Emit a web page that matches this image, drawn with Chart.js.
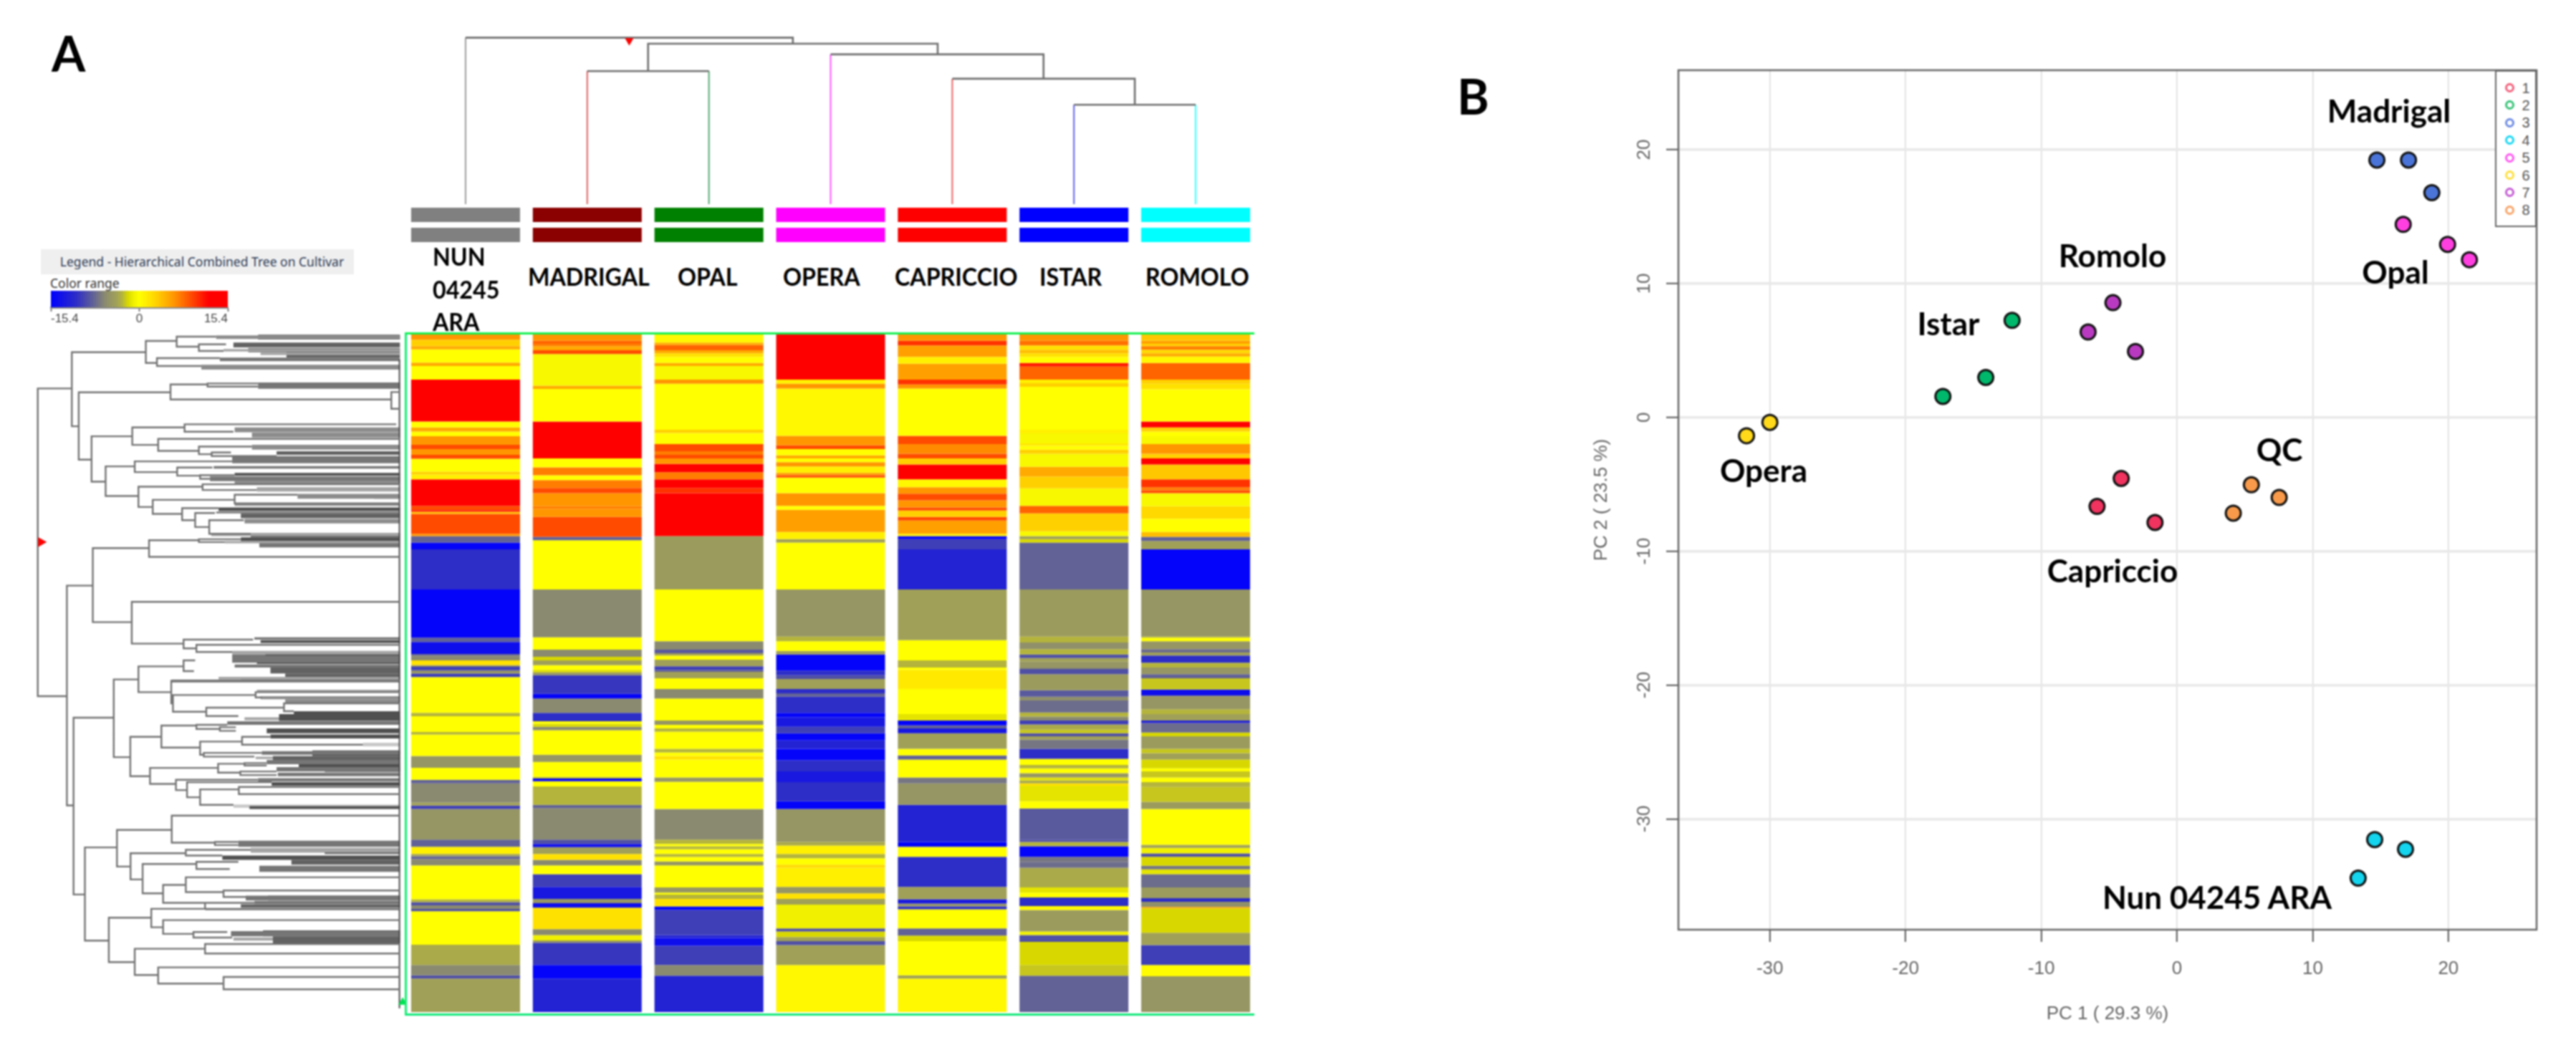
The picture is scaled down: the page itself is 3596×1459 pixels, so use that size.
<!DOCTYPE html>
<html><head><meta charset="utf-8">
<script src="https://cdn.jsdelivr.net/npm/chart.js@4"></script>
<style>
html,body{margin:0;padding:0;background:#fff;overflow:hidden}
#stage{position:relative;width:3596px;height:1459px;background:#fff;filter:blur(.8px)}
canvas{position:absolute}
.t{position:absolute;white-space:nowrap;color:#000;font-family:Lato,"Open Sans",sans-serif;font-weight:700;line-height:1}
.c{transform:translate(-50%,-50%)}
.v{transform:translateY(-50%)}
</style></head><body><div id="stage"></div>
<script>
// ---------- Panel A data ----------
const cultivars=["NUN 04245 ARA","MADRIGAL","OPAL","OPERA","CAPRICCIO","ISTAR","ROMOLO"];
const heatRowCount=2836;
// each entry: [log-ratio value, row where that run of equal rows ends]
const nunRuns=[[6,22],[3,49],[5,62],[0,118],[5,132],[0,189],[14,364],[0,389],[5,406],[0,426],[6,462],[9,480],[6,504],[9,520],[0,574],[3,586],[1,606],[14,717],[9,735],[12,741],[4,751],[9,834],[6,844],[-8,871],[-15,899],[-11,1067],[-15,1269],[-8,1287],[-14,1337],[-8,1344],[-6,1364],[2,1384],[-6,1391],[-10,1405],[-6,1412],[-4,1419],[-10,1434],[0,1584],[-3,1598],[0,1664],[-3,1674],[0,1764],[-5,1814],[0,1864],[-8,1879],[-6,1959],[-4,1972],[-10,1986],[-5,2114],[-8,2144],[1,2174],[-4,2184],[-8,2196],[-6,2222],[0,2364],[-3,2376],[-9,2389],[-6,2404],[-9,2414],[0,2554],[-3.5,2639],[-6,2682],[-9,2696],[-4,2836]];
const madrigalRuns=[[6,26],[8,39],[7,49],[5,66],[9,82],[-0.5,214],[5,228],[0,364],[14,519],[0,556],[7,589],[0,609],[7,642],[9,664],[6,719],[7,729],[6,764],[9,847],[-8,861],[0,1067],[-6,1267],[0,1319],[-6,1349],[-2,1364],[-4,1384],[0,1404],[-2,1414],[-5,1426],[-10.5,1504],[-15,1524],[-6,1584],[-11,1619],[0,1629],[-2,1642],[-6,1656],[0,1759],[-5,1789],[0,1852],[-3,1859],[-15,1870],[0,1892],[-3,1969],[-8,1982],[-6,2114],[-9,2132],[-14,2146],[-4,2174],[2,2199],[-6,2222],[0,2259],[-10,2312],[-13,2362],[-5,2380],[-14,2399],[2,2489],[-6,2514],[-1,2536],[-5,2546],[-10.5,2639],[-15,2696],[-12,2836]];
const opalRuns=[[0.5,34],[5,44],[8,66],[5,79],[2,94],[0,119],[5,132],[-0.5,189],[6,206],[0,399],[3,412],[0,459],[9,489],[7,504],[9,519],[6,542],[12,576],[7,606],[13,642],[10,664],[14,844],[-4.5,1067],[0,1284],[-6,1319],[-8.5,1334],[-4,1344],[0,1361],[-4,1389],[-10,1404],[-8,1412],[-4,1439],[0,1484],[-6,1524],[0,1616],[-5,1634],[0,1649],[-3,1662],[0,1734],[-3,1749],[0,1764],[2,1779],[0,1854],[-5,1872],[0,1986],[-6,2114],[-3,2132],[0,2142],[-3,2154],[0,2174],[-3,2186],[0,2206],[-5,2222],[0,2314],[-5,2336],[0,2344],[-3,2362],[2,2394],[-15,2409],[-10,2514],[-12,2526],[-14,2559],[-10,2639],[-6,2684],[-12,2836]];
const operaRuns=[[14,189],[1,206],[6,226],[0.5,424],[6,464],[9,480],[0,506],[5,519],[0,534],[6,552],[1,579],[6,589],[9,599],[0,664],[6,717],[0,734],[5.5,827],[1,857],[-4,871],[0,1067],[-5,1264],[-3,1284],[0,1324],[-4,1339],[-15,1407],[-11,1426],[-9,1442],[-4,1484],[-11,1502],[-8,1516],[-11,1584],[-15,1602],[-13,1642],[-10,1669],[-15,1699],[-12,1734],[-15,1782],[-11,1829],[-13,1874],[-11,1954],[-15,1986],[-5,2124],[-3.5,2139],[1,2174],[-3,2192],[0,2219],[2.5,2232],[1,2312],[-5,2339],[2,2362],[-4,2386],[-1,2486],[-9,2499],[-2,2522],[-4,2539],[-9,2556],[-4,2639],[0.5,2836]];
const capriccioRuns=[[6,26],[10,46],[5.5,94],[1,122],[5.5,189],[10,209],[6,226],[0,424],[9,459],[6.5,499],[9,519],[3,544],[12,606],[0.5,639],[6,666],[9,694],[6,724],[9,737],[3,764],[9,779],[5.5,834],[1,844],[-15,857],[-10,899],[-12,1067],[-4,1279],[0,1364],[-3,1394],[0,1404],[1.5,1484],[0,1589],[-1.5,1616],[-15,1636],[-8,1649],[-13,1669],[-4,1734],[0,1762],[-8,1779],[0,1854],[-7,1879],[-5,1969],[-12,2124],[-15,2144],[0,2186],[-11,2312],[-4,2364],[-13,2382],[-5,2394],[-11,2406],[0,2486],[-8,2516],[-2,2539],[0,2682],[-4,2696],[0.5,2836]];
const istarRuns=[[6,26],[7.5,46],[2,64],[4,79],[2,94],[0,119],[11,134],[8,189],[1,204],[3,219],[0,399],[1,414],[-0.5,456],[1.5,466],[0,482],[3,499],[-0.5,554],[5,594],[3,644],[-0.5,717],[8,749],[3,824],[-0.5,844],[-4,857],[-2,871],[-8,1067],[-4.5,1264],[-3,1289],[-5.5,1317],[-3,1339],[-9,1354],[-4,1369],[-5,1394],[-6,1400],[-9,1422],[-4.5,1489],[-8.5,1516],[-5.5,1532],[-7.5,1582],[-3,1599],[-6,1616],[-10,1632],[-3.5,1654],[-2.5,1669],[-9,1682],[-4,1696],[-7,1734],[-11,1776],[0,1802],[-3,1816],[0,1836],[-5,1854],[-1.5,1866],[-3.5,1879],[2,1889],[-1.5,1954],[0,1984],[-8.5,2114],[-9,2124],[-3,2142],[-15,2186],[-7,2209],[-7.5,2232],[-3.5,2314],[-1.5,2336],[0,2356],[-11,2392],[0.5,2409],[-4.5,2499],[-1,2514],[-9,2542],[-2,2639],[-2.5,2684],[-8,2836]];
const romoloRuns=[[3.5,26],[5.5,39],[3,49],[7,64],[2.5,79],[5,92],[0.5,119],[8,189],[3,206],[2,229],[0,364],[13,389],[3,406],[0,426],[-0.5,459],[6,499],[3,519],[12,544],[3.5,606],[10,639],[7,652],[9,664],[-0.5,719],[2.5,771],[0,827],[4,847],[-8,864],[-4,899],[-15,1067],[-5,1264],[-3,1269],[0,1284],[-5,1317],[-7.5,1331],[-4,1344],[-11,1374],[-3,1394],[-5,1422],[-8,1439],[-2.5,1486],[-14,1512],[-5,1569],[-3,1589],[-4,1616],[-12,1626],[-7.5,1666],[-2,1682],[-4.5,1734],[-2.5,1752],[-4,1779],[-2,1816],[0,1829],[-2.5,1854],[0,1874],[-3,1894],[-2.5,1956],[-4.5,1986],[0,2136],[-4,2149],[-1,2172],[-9,2186],[-2,2224],[-7,2239],[-1.5,2259],[-7.5,2314],[-4.5,2359],[-11,2374],[-5.5,2396],[5,2402],[-2,2504],[-4,2556],[-10,2639],[0.3,2686],[-5,2836]];
// column tree: [left x, right x, height, left child height, right child height]
const columnTreeMerges=[[0,2.69,499,0,481],[1.5,3.88,481,399,449],[3,4.75,449,0,376],[4,5.5,376,0,298],[5,6,298,0,0],[1,2,399,0,0]];
const columnLeafTops=[499,399,399,449,376,298,298];
// row tree: [depth, upper row, lower row, upper child depth, lower child depth]
const rowTreeMerges=[[37,226,1514,175,155],[175,74,384,475,203],[475,27,119,600,520],[600,9,51,760,690],[690,41,69,800,790],[520,99,132,775,700],[203,242,524,575,255],[575,209,272,725,1470],[725,205,218,930,930],[1470,241,311,1505,1505],[255,426,616,420,312],[420,389,462,632,525],[632,376,407,1490,830],[525,437,487,1505,690],[690,469,501,905,742],[742,494,509,820,1005],[312,552,676,430,445],[430,531,576,825,602],[602,557,591,745,695],[695,589,604,835,735],[445,637,722,705,503],[705,627,651,1505,925],[503,692,751,835,622],[835,671,707,1090,1505],[622,727,777,770,675],[675,747,806,755,732],[732,777,834,872,900],[155,1051,1971,260,182],[260,894,1204,488,418],[488,861,931,690,1505],[690,857,869,860,795],[418,1119,1294,1505,628],[628,1277,1314,910,680],[680,1299,1329,1505,825],[445,1389,1497,628,575],[628,1364,1409,675,670],[345,1444,1769,445,412],[578,1449,1544,1505,585],[585,1509,1579,920,720],[920,1497,1519,1505,945],[720,1562,1597,1035,850],[1035,1544,1577,1505,1075],[182,1604,2344,345,228],[412,1684,1849,538,492],[538,1637,1729,680,695],[680,1634,1651,805,775],[775,1644,1659,840,840],[695,1704,1759,865,710],[865,1684,1717,980,1355],[710,1751,1767,945,915],[492,1814,1881,768,597],[768,1797,1834,875,858],[875,1794,1804,965,965],[858,1829,1844,1005,1005],[597,1864,1907,930,642],[642,1874,1937,985,695],[695,1904,1969,852,830],[852,1894,1924,1505,1505],[228,2147,2537,358,325],[358,2074,2227,580,413],[580,2014,2127,1505,755],[755,2124,2137,850,850],[413,2171,2281,637,462],[637,2157,2181,900,785],[462,2216,2339,680,545],[680,2207,2237,850,815],[545,2304,2379,637,715],[637,2272,2334,1505,790],[790,2327,2354,1505,885],[715,2379,2404,915,1505],[325,2441,2627,497,430],[497,2404,2481,715,545],[545,2451,2509,1505,668],[668,2501,2524,805,825],[430,2571,2681,715,525],[715,2551,2591,1505,1505],[525,2649,2717,1505,790],[790,2689,2741,1505,1505]];
// bundles of near-identical leaves: [start depth, first row, last row, density class]
const rowLeafBundles=[[760,4,19,2],[930,1,21,4],[830,34,54,4],[790,61,71,1],[890,57,74,4],[940,76,86,1],[1045,74,97,4],[775,97,112,3],[700,127,147,2],[930,201,227,3],[835,389,409,2],[905,411,431,2],[905,462,482,2],[1005,489,504,4],[825,509,539,3],[750,551,561,3],[835,579,591,5],[735,594,614,3],[835,614,629,2],[925,639,657,1],[1090,667,687,2],[1400,674,687,3],[835,704,717,2],[770,724,739,5],[760,741,749,3],[860,749,769,4],[875,772,791,2],[740,831,844,1],[900,831,849,4],[860,849,864,5],[795,864,874,1],[935,871,891,3],[915,1267,1277,3],[940,1279,1291,5],[825,1324,1339,1],[960,1329,1344,5],[825,1339,1374,3],[960,1344,1359,4],[925,1359,1379,5],[835,1381,1394,3],[980,1394,1419,4],[1040,1419,1433,4],[770,1433,1444,1],[860,1433,1444,5],[580,1444,1457,2],[925,1487,1499,1],[940,1514,1527,2],[1040,1527,1541,2],[1075,1577,1589,5],[1015,1589,1617,5],[875,1602,1614,1],[805,1619,1634,3],[965,1649,1669,5],[980,1674,1691,5],[1355,1709,1724,0],[945,1744,1759,3],[1150,1741,1764,5],[990,1764,1781,4],[920,1767,1777,1],[965,1781,1799,3],[1095,1797,1811,5],[1005,1811,1829,3],[1200,1811,1831,5],[1010,1834,1849,3],[930,1857,1871,3],[985,1874,1889,5],[895,1974,1986,5],[830,1967,1981,0],[850,2119,2144,3],[900,2149,2169,1],[1200,2157,2174,5],[785,2181,2199,5],[1065,2199,2219,4],[935,2224,2249,3],[880,2349,2369,3],[970,2349,2369,5],[915,2371,2384,3],[860,2385,2399,4],[715,2401,2409,6],[820,2497,2519,3],[950,2494,2519,5],[990,2519,2549,4],[830,2524,2537,1]];
const colorRangeTicks=[-15.4,0,15.4];
// ---------- Panel B data ----------
const capriccioPC=[[-4.11,-4.56],[-5.89,-6.65],[-1.62,-7.85]];
const istarPC=[[-12.15,7.25],[-14.09,2.99],[-17.25,1.57]];
const madrigalPC=[[14.73,19.23],[17.06,19.23],[18.78,16.79]];
const nunPC=[[14.57,-31.54],[16.84,-32.26],[13.35,-34.42]];
const opalPC=[[16.67,14.42],[19.94,12.93],[21.55,11.78]];
const operaPC=[[-30,-0.37],[-31.72,-1.37]];
const romoloPC=[[-4.72,8.57],[-6.55,6.38],[-3.06,4.93]];
const qcPC=[[5.48,-5.03],[7.53,-5.98],[4.15,-7.15]];
const pcXTicks=[-30,-20,-10,0,10,20];
const pcYTicks=[-30,-20,-10,0,10,20];
const groupNames=["1","2","3","4","5","6","7","8"];

// ---------- styling ----------
const heatStops=[[-15.4,0,0,255],[-13,24,24,224],[-11,45,45,200],[-9,80,80,165],[-8,98,98,150],[-6,138,138,112],[-5,150,150,100],[-4,160,160,88],[-3,180,180,60],[-2,216,216,0],[-1,240,240,0],[0,255,255,0],[2,255,225,0],[3,255,208,0],[5,255,170,0],[6,255,150,0],[8,255,100,0],[9,255,75,0],[10,255,50,0],[12,255,0,0],[15.4,255,0,0]];
function heatColor(v){
  for(let i=1;i<heatStops.length;i++){
    const a=heatStops[i-1],b=heatStops[i];
    if(v<=b[0]){const t=(v-a[0])/(b[0]-a[0]);
      return `rgb(${Math.round(a[1]+t*(b[1]-a[1]))},${Math.round(a[2]+t*(b[2]-a[2]))},${Math.round(a[3]+t*(b[3]-a[3]))})`;}
  }
  return 'rgb(255,0,0)';
}
const densityGrey=['#c8c8c8','#a4a4a4','#8c8c8c','#767676','#626262','#505050','#3c3c3c'];
const barColors=['#808080','#8b0000','#008000','#ff00ff','#ff0000','#0000ff','#00ffff'];
const stemColors=['#9a9a9a','#e06060','#50a870','#ff50ff','#f06060','#6060f0','#30ffff'];
const pcColors=['#f0335f','#00b86b','#4a74d8','#14d4ee','#ff3fe0','#ffd91a','#b93ac0','#f89a4a'];
const ringColors=['#f4607c','#38c478','#6f8ce4','#1ad8f4','#ff58f0','#ffe040','#c45cd4','#f8a468'];

Chart.defaults.animation=false;
Chart.defaults.responsive=false;
Chart.defaults.devicePixelRatio=1;
Chart.defaults.layout.autoPadding=false;
Chart.defaults.plugins.legend.display=false;
Chart.defaults.plugins.tooltip.enabled=false;
Chart.defaults.font.family='"Liberation Sans",sans-serif';

const stage=document.getElementById('stage');
function mk(left,top,w,h,cfg){
  const c=document.createElement('canvas');
  c.width=w;c.height=h;c.style.left=left+'px';c.style.top=top+'px';c.style.width=w+'px';c.style.height=h+'px';
  stage.appendChild(c);
  return new Chart(c,cfg);
}
function txt(s,x,y,size,cls,extra){
  const d=document.createElement('div');d.className='t '+cls;d.textContent=s;
  d.style.left=x+'px';d.style.top=y+'px';d.style.fontSize=size+'px';
  if(extra)Object.assign(d.style,extra);
  stage.appendChild(d);return d;
}
const noPad={padding:0,autoPadding:false};

// ---- heatmap ----
const allRuns=[nunRuns,madrigalRuns,opalRuns,operaRuns,capriccioRuns,istarRuns,romoloRuns];
const heatSets=[];
allRuns.forEach((runs,c)=>{
  let start=0;
  runs.forEach(([v,end])=>{
    const d=Array(cultivars.length).fill(null);d[c]=[start,end];
    heatSets.push({data:d,backgroundColor:heatColor(v),borderWidth:0,grouped:false,barPercentage:0.895,categoryPercentage:1});
    start=end;
  });
});
mk(565,467,1189,946,{type:'bar',data:{labels:cultivars,datasets:heatSets},
  options:{layout:noPad,scales:{x:{display:false},y:{display:false,reverse:true,min:0,max:heatRowCount}}}});

// ---- column colour bars ----
const cultivarRowA=cultivars.map(()=>[0,1]);
const cultivarRowB=cultivars.map(()=>[1.4,2.4]);
mk(565,290,1189,48,{type:'bar',data:{labels:cultivars,datasets:[
  {data:cultivarRowA,backgroundColor:barColors,borderWidth:0,grouped:false,barPercentage:0.895,categoryPercentage:1},
  {data:cultivarRowB,backgroundColor:barColors,borderWidth:0,grouped:false,barPercentage:0.895,categoryPercentage:1}]},
  options:{layout:noPad,scales:{x:{display:false},y:{display:false,reverse:true,min:0,max:2.4}}}});

// ---- column dendrogram ----
const bracketPts=[];
columnTreeMerges.forEach(([xa,xb,h,ha,hb],i)=>{
  const aLeaf=ha===0,bLeaf=hb===0;
  if(!aLeaf)bracketPts.push({x:xa,y:ha},{x:xa,y:h});else bracketPts.push({x:xa,y:h});
  bracketPts.push({x:xb,y:h});
  if(!bLeaf)bracketPts.push({x:xb,y:hb});
  bracketPts.push({x:NaN,y:NaN});
});
const stems=columnLeafTops.map((h,i)=>({data:[{x:i,y:h},{x:i,y:0}],borderColor:stemColors[i],borderWidth:2,pointRadius:0,showLine:true}));
mk(565,0,1189,285,{type:'scatter',data:{datasets:[
  {data:[{x:1.345,y:490}],pointStyle:'triangle',rotation:180,pointRadius:7,backgroundColor:'#ff0000',borderWidth:0},
  {data:bracketPts,borderColor:'#6e6e6e',borderWidth:2.6,pointRadius:0,showLine:true,spanGaps:false},
  ...stems]},
  options:{layout:noPad,scales:{x:{display:false,min:-0.5,max:6.5},y:{display:false,min:0,max:612}}}});

// ---- row dendrogram ----
const rowPts=[];
rowTreeMerges.forEach(([d,a,b,ca,cb])=>{rowPts.push({x:ca,y:a},{x:d,y:a},{x:d,y:b},{x:cb,y:b},{x:NaN,y:NaN});});
const bundleSets=rowLeafBundles.map(([x0,a,b,k])=>({
  data:[{x:x0,y:(a+b)/2},{x:1505,y:(a+b)/2}],
  borderColor:densityGrey[k],borderWidth:(b-a)*946/heatRowCount,borderCapStyle:'butt',pointRadius:0,showLine:true}));
const rowTreeRange={min:0,max:1568};
mk(40,467,540,946,{type:'scatter',data:{datasets:[
  {data:[{x:50,y:869}],pointStyle:'triangle',rotation:90,pointRadius:8,backgroundColor:'#ff0000',borderWidth:0},
  {data:[{x:1516,y:2795}],pointStyle:'triangle',pointRadius:7,backgroundColor:'#00e050',borderWidth:0},
  {data:rowPts,borderColor:'#727272',borderWidth:2.4,pointRadius:0,showLine:true,spanGaps:false},
  {data:[{x:1503,y:105},{x:1503,y:2820}],borderColor:'#4a4a4a',borderWidth:2,pointRadius:0,showLine:true},
  ...bundleSets]},
  options:{layout:noPad,scales:{x:{display:false,...rowTreeRange},y:{display:false,reverse:true,min:0,max:heatRowCount}}}});

// ---- green frame of the heat map ----
const frame=document.createElement('div');
Object.assign(frame.style,{position:'absolute',left:'565px',top:'464px',width:'1183px',height:'948px',borderTop:'3px solid #14f050',borderLeft:'3px solid #14f070',borderBottom:'3px solid #10e878'});
stage.appendChild(frame);

// ---- colour range legend ----
const box=document.createElement('div');
Object.assign(box.style,{position:'absolute',left:'57px',top:'348px',width:'437px',height:'35px',background:'#efefef'});
stage.appendChild(box);
txt('Legend - Hierarchical Combined Tree on Cultivar',282,366,17.5,'c',{fontFamily:'"Noto Sans",sans-serif',fontWeight:'400',color:'#2c3a55'});
txt('Color range',70,396,17.5,'v',{fontFamily:'"Noto Sans",sans-serif',fontWeight:'400',color:'#333'});
mk(60,400,270,62,{type:'bar',data:{labels:['range'],datasets:[{data:[[colorRangeTicks[0],colorRangeTicks[2]]],
  backgroundColor(ctx){const a=ctx.chart.chartArea;if(!a)return '#888';
    const g=ctx.chart.ctx.createLinearGradient(a.left,0,a.right,0);
    heatStops.forEach(s=>g.addColorStop((s[0]+15.4)/30.8,`rgb(${s[1]},${s[2]},${s[3]})`));return g;},
  barPercentage:1,categoryPercentage:1,borderWidth:0}]},
  options:{indexAxis:'y',layout:{padding:{left:11,right:12,top:6,bottom:0}},scales:{
    y:{display:false},
    x:{min:colorRangeTicks[0],max:colorRangeTicks[2],
      afterBuildTicks(s){s.ticks=colorRangeTicks.map(v=>({value:v}));},
      afterFit(s){s.height=33;},
      border:{color:'#8a8a8a',width:3},
      grid:{drawOnChartArea:false,tickLength:6,color:'#555',tickWidth:1.5},
      ticks:{align:'inner',padding:0,maxRotation:0,color:'#444',font:{size:17},callback:v=>String(v)}}}}});

// ---- column labels ----
[['NUN',604,357],['04245',604,403],['ARA',604,448],['MADRIGAL',737,385],['OPAL',946,385],['OPERA',1093,385],['CAPRICCIO',1249,385],['ISTAR',1451,385],['ROMOLO',1599,385]]
  .forEach(([s,x,y])=>txt(s,x,y,35,'v',{transform:'translateY(-50%) scaleX(.92)',transformOrigin:'left center'}));
txt('A',72,74,68,'v');
txt('B',2034,134,68,'v');

// ---- PCA ----
const pcGroups=[capriccioPC,istarPC,madrigalPC,nunPC,opalPC,operaPC,romoloPC,qcPC];
const frameAndYLabels={id:'frameAndYLabels',afterDraw(ch){
  const {ctx,chartArea:a,scales:{y}}=ch;
  ctx.save();
  ctx.strokeStyle='#666';ctx.lineWidth=2.5;ctx.strokeRect(a.left,a.top,a.right-a.left,a.bottom-a.top);
  ctx.fillStyle='#666';ctx.font='26px "Liberation Sans"';ctx.textAlign='center';ctx.textBaseline='middle';
  y.ticks.forEach(t=>{ctx.save();ctx.translate(a.left-47,y.getPixelForValue(t.value));ctx.rotate(-Math.PI/2);ctx.fillText(String(t.value),0,0);ctx.restore();});
  ctx.restore();
}};
mk(2200,90,1350,1368,{type:'scatter',data:{datasets:pcGroups.map((g,i)=>({
    label:groupNames[i],data:g.map(([x,y])=>({x,y})),backgroundColor:pcColors[i],borderColor:'#111',borderWidth:3,pointRadius:10.5}))},
  plugins:[frameAndYLabels],
  options:{layout:{autoPadding:false,padding:{top:8,right:9,left:0,bottom:0}},scales:{
    x:{min:-36.74,max:26.5,afterBuildTicks(s){s.ticks=pcXTicks.map(v=>({value:v}));},afterFit(s){s.height=160;},
      grid:{color:'#dcdcdc',lineWidth:1.6,tickColor:'#555',tickWidth:2,tickLength:17},border:{display:false},
      ticks:{color:'#666',font:{size:26},padding:22,maxRotation:0},
      title:{display:true,text:'PC 1 ( 29.3 %)',color:'#666',font:{size:26},padding:{top:0,bottom:27}}},
    y:{min:-38.27,max:25.94,afterBuildTicks(s){s.ticks=pcYTicks.map(v=>({value:v}));},afterFit(s){s.width=143;},
      grid:{color:'#e8e8e8',lineWidth:3.5,tickColor:'#555',tickWidth:2,tickLength:17},border:{display:false},
      ticks:{display:false},
      title:{display:true,text:'PC 2 ( 23.5 %)',color:'#666',font:{size:26},padding:{top:20,bottom:0}}}}}});

// ---- PCA group key ----
const key=document.createElement('div');
Object.assign(key.style,{position:'absolute',left:'3483px',top:'98px',width:'58px',height:'219px',boxSizing:'border-box',border:'2.5px solid #666',background:'#fff'});
stage.appendChild(key);
groupNames.forEach((n,i)=>{
  const r=document.createElement('div');
  Object.assign(r.style,{position:'absolute',left:'3497px',top:(116+i*24.4)+'px',width:'13px',height:'13px',boxSizing:'border-box',border:'3.5px solid '+ringColors[i],borderRadius:'50%'});
  stage.appendChild(r);
  txt(n,3526,122.5+i*24.4,20,'c',{fontFamily:'"Liberation Sans",sans-serif',fontWeight:'400',color:'#555'});
});

// ---- PCA group names ----
[['Madrigal',3335,154],['Romolo',2949,356],['Opal',3344,379],['Istar',2720,451],['Opera',2462,656],['QC',3182,627],['Capriccio',2949,796],['Nun 04245 ARA',3095,1252]]
  .forEach(([s,x,y])=>txt(s,x,y,44,'c'));
</script></body></html>
